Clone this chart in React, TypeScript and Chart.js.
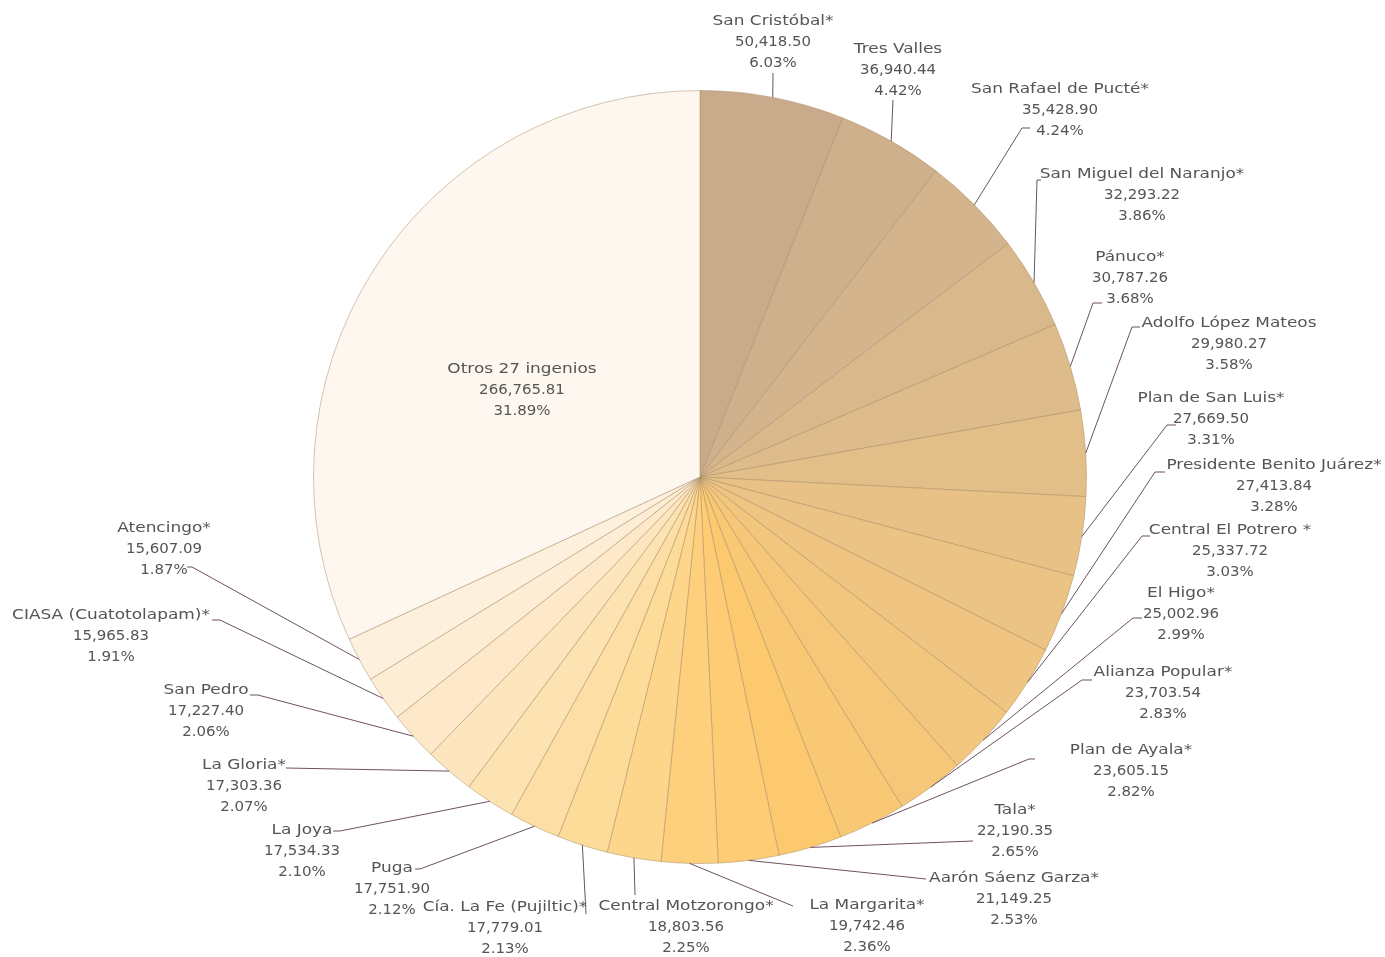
import React, { useEffect, useRef } from 'react';
import { Chart, registerables } from 'chart.js';

Chart.register(...registerables);

// ---- data ----
const categories: string[] = [
  'San Cristóbal*',
  'Tres Valles',
  'San Rafael de Pucté*',
  'San Miguel del Naranjo*',
  'Pánuco*',
  'Adolfo López Mateos',
  'Plan de San Luis*',
  'Presidente Benito Juárez*',
  'Central El Potrero *',
  'El Higo*',
  'Alianza Popular*',
  'Plan de Ayala*',
  'Tala*',
  'Aarón Sáenz Garza*',
  'La Margarita*',
  'Central Motzorongo*',
  'Cía. La Fe (Pujiltic)*',
  'Puga',
  'La Joya',
  'La Gloria*',
  'San Pedro',
  'CIASA (Cuatotolapam)*',
  'Atencingo*',
  'Otros 27 ingenios',
];

const values: number[] = [
  50418.5, 36940.44, 35428.9, 32293.22, 30787.26, 29980.27, 27669.5, 27413.84,
  25337.72, 25002.96, 23703.54, 23605.15, 22190.35, 21149.25, 19742.46, 18803.56,
  17779.01, 17751.9, 17534.33, 17303.36, 17227.4, 15965.83, 15607.09, 266765.81,
];

// ---- styles ----
const sliceColors: string[] = [
  '#c9ab8c', '#cfb08c', '#d4b48c', '#d9b88b', '#debb8a', '#e2be88',
  '#e7c186', '#ebc384', '#efc581', '#f3c67d', '#f6c779', '#f9c874',
  '#fcc96f', '#fdcc74', '#fed07e', '#fdd58b', '#fddb99', '#fddfa6',
  '#fde3b2', '#fde6be', '#fde9c9', '#fdedd4', '#fdf0dd', '#fdf7f0',
];

// label layout (canvas px): [textCenterX, firstLineY, elbowX, elbowY, tickEndX]
const labelLayout: (number[] | null)[] = [
  [773, 21, 773, 73, 773],
  [898, 49, 893, 100, 893],
  [1060, 89, 1022, 128, 1030],
  [1142, 174, 1037, 180, 1041],
  [1130, 257, 1093, 303, 1102],
  [1229, 323, 1132, 327, 1140],
  [1211, 398, 1167, 425, 1176],
  [1274, 465, 1155, 472, 1165],
  [1230, 530, 1142, 536, 1150],
  [1181, 593, 1133, 618, 1142],
  [1163, 672, 1082, 680, 1092],
  [1131, 750, 1029, 759, 1035],
  [1015, 810, 973, 841, 973],
  [1014, 878, 926, 879, 926],
  [867, 905, 793, 906, 793],
  [686, 906, 635, 895, 635],
  [505, 907, 586, 914, 586],
  [392, 868, 420, 869, 415],
  [302, 830, 340, 831, 333],
  [244, 765, 286, 768, 286],
  [206, 690, 258, 695, 250],
  [111, 615, 220, 620, 212],
  [164, 528, 192, 567, 187],
  null,
];
const otrosLabelPos = [522, 369];
const nameStretch = 1.21;
const numberStretch = 1.07;

const total = values.reduce((a, b) => a + b, 0);
const fmtValue = (v: number) =>
  v.toLocaleString('en-US', { minimumFractionDigits: 2, maximumFractionDigits: 2 });
const fmtPct = (v: number) => ((v / total) * 100).toFixed(2) + '%';

function drawStretched(ctx: CanvasRenderingContext2D, text: string, x: number, y: number, s: number) {
  ctx.save();
  ctx.scale(s, 1);
  ctx.fillText(text, x / s, y);
  ctx.restore();
}

const labelPlugin = {
  id: 'leaderLabels',
  afterDatasetsDraw(chart: any) {
    const ctx: CanvasRenderingContext2D = chart.ctx;
    const meta = chart.getDatasetMeta(0);
    const lh = 21;
    meta.data.forEach((arc: any, i: number) => {
      const p = arc.getProps(['x', 'y', 'startAngle', 'endAngle', 'outerRadius'], true);
      const mid = (p.startAngle + p.endAngle) / 2;
      const sx = p.x + Math.cos(mid) * p.outerRadius;
      const sy = p.y + Math.sin(mid) * p.outerRadius;
      const lay = labelLayout[i];
      let cx: number, y1: number;
      ctx.save();
      if (lay) {
        const [lx, ly, ex, ey, tx] = lay;
        cx = lx;
        y1 = ly;
        ctx.strokeStyle = '#6e5060';
        ctx.lineWidth = 1;
        ctx.beginPath();
        ctx.moveTo(sx, sy);
        ctx.lineTo(ex, ey);
        ctx.lineTo(tx, ey);
        ctx.stroke();
      } else {
        cx = otrosLabelPos[0];
        y1 = otrosLabelPos[1];
      }
      ctx.font = '14px "DejaVu Sans"';
      ctx.textAlign = 'center';
      ctx.textBaseline = 'middle';
      ctx.fillStyle = '#555555';
      drawStretched(ctx, categories[i], cx, y1, nameStretch);
      drawStretched(ctx, fmtValue(values[i]), cx, y1 + lh, numberStretch);
      drawStretched(ctx, fmtPct(values[i]), cx, y1 + lh * 2, numberStretch);
      ctx.restore();
    });
  },
};

export default function App() {
  const ref = useRef<HTMLCanvasElement>(null);
  useEffect(() => {
    if (!ref.current) return;
    const chart = new Chart(ref.current, {
      type: 'pie',
      data: {
        labels: categories,
        datasets: [
          {
            data: values,
            backgroundColor: sliceColors,
            borderColor: 'rgba(170,140,100,0.5)',
            borderWidth: 1,
          },
        ],
      },
      options: {
        responsive: false,
        animation: false,
        layout: { padding: { left: 313, right: 298, top: 90, bottom: 93 } },
        plugins: {
          legend: { display: false },
          tooltip: { enabled: false },
        },
      },
      plugins: [labelPlugin],
    });
    return () => chart.destroy();
  }, []);
  return (
    <div style={{ position: 'absolute', left: 0, top: 0, width: 1385, height: 957, background: '#fff' }}>
      <canvas ref={ref} width={1385} height={957} />
    </div>
  );
}
